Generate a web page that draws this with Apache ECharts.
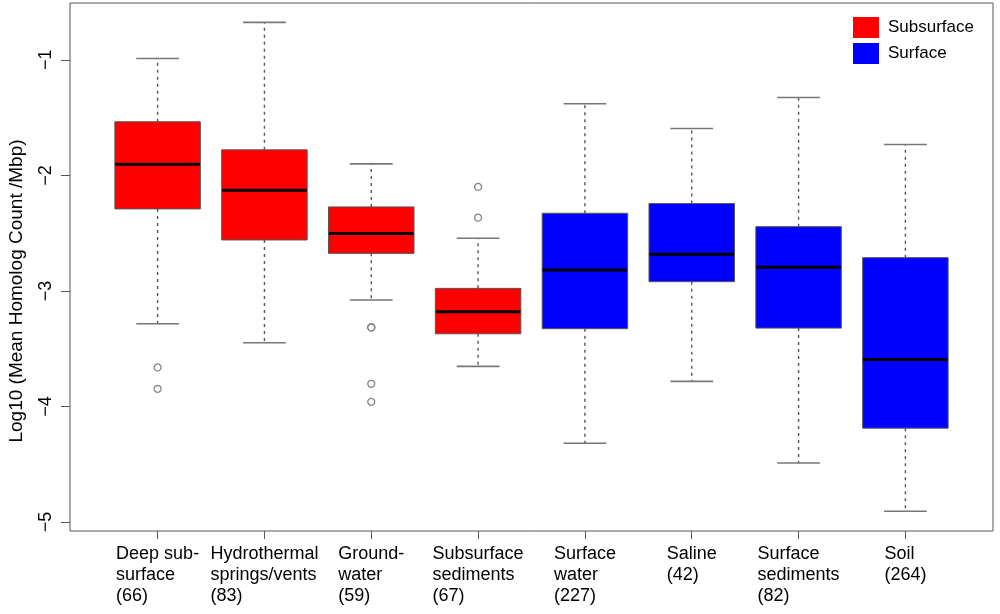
<!DOCTYPE html>
<html>
<head>
<meta charset="utf-8">
<script src="https://cdn.jsdelivr.net/npm/echarts@6/dist/echarts.min.js"></script>
<style>
  html, body { margin: 0; padding: 0; background: #fff; }
  #chart { width: 1000px; height: 614px; }
</style>
</head>
<body>
<div id="chart"></div>
<script>
// ---- data ----
const categoryLines = [
  ['Deep sub-', 'surface', '(66)'],
  ['Hydrothermal', 'springs/vents', '(83)'],
  ['Ground-', 'water', '(59)'],
  ['Subsurface', 'sediments', '(67)'],
  ['Surface', 'water', '(227)'],
  ['Saline', '(42)'],
  ['Surface', 'sediments', '(82)'],
  ['Soil', '(264)']
];
const groupType   = ['Subsurface', 'Subsurface', 'Subsurface', 'Subsurface', 'Surface', 'Surface', 'Surface', 'Surface'];
const whiskerLow  = [-3.284, -3.449, -3.079, -3.653, -4.318, -3.783, -4.489, -4.907];
const quart1      = [-2.290, -2.559, -2.675, -3.371, -3.327, -2.920, -3.322, -4.188];
const median      = [-1.903, -2.128, -2.504, -3.180, -2.819, -2.683, -2.796, -3.593];
const quart3      = [-1.536, -1.779, -2.273, -2.978, -2.328, -2.244, -2.444, -2.712];
const whiskerHigh = [-0.988, -0.676, -1.900, -2.544, -1.380, -1.594, -1.326, -1.733];
const outlierGroup = [0, 0, 2, 2, 2, 2, 3, 3];
const outlierValue = [-3.662, -3.847, -3.316, -3.316, -3.804, -3.960, -2.100, -2.366];
const yTicks = [-5, -4, -3, -2, -1];
const legendNames = ['Subsurface', 'Surface'];
const legendColors = ['#ff0000', '#0000ff'];
// ----------------------------------------------

const FONT = '"Liberation Sans", Arial, Helvetica, sans-serif';
const xPositions = categoryLines.map((_, i) => i + 1);

function boxData(type) {
  const out = [];
  for (let i = 0; i < categoryLines.length; i++) {
    if (groupType[i] === type) {
      out.push([xPositions[i], whiskerLow[i], quart1[i], median[i], quart3[i], whiskerHigh[i]]);
    }
  }
  return out;
}

function renderBox(params, api) {
  const x = api.value(0);
  const pLo = api.coord([x, api.value(1)]);
  const pQ1 = api.coord([x, api.value(2)]);
  const pMd = api.coord([x, api.value(3)]);
  const pQ3 = api.coord([x, api.value(4)]);
  const pHi = api.coord([x, api.value(5)]);
  const w = api.size([0.8, 0])[0];
  const cw = w / 2;
  const cx = pMd[0];
  const color = api.visual('color');
  const dash = { stroke: '#555', lineWidth: 1.4, lineDash: [3, 4] };
  const cap = { stroke: '#777', lineWidth: 1.6 };
  return {
    type: 'group',
    children: [
      { type: 'line', shape: { x1: cx, y1: pQ1[1], x2: cx, y2: pLo[1] }, style: dash },
      { type: 'line', shape: { x1: cx, y1: pQ3[1], x2: cx, y2: pHi[1] }, style: dash },
      { type: 'line', shape: { x1: cx - cw / 2, y1: pLo[1], x2: cx + cw / 2, y2: pLo[1] }, style: cap },
      { type: 'line', shape: { x1: cx - cw / 2, y1: pHi[1], x2: cx + cw / 2, y2: pHi[1] }, style: cap },
      { type: 'rect', shape: { x: cx - w / 2, y: pQ3[1], width: w, height: pQ1[1] - pQ3[1] },
        style: { fill: color, stroke: '#555', lineWidth: 1 } },
      { type: 'line', shape: { x1: cx - w / 2 + 0.5, y1: pMd[1], x2: cx + w / 2 - 0.5, y2: pMd[1] },
        style: { stroke: '#000', lineWidth: 3 } }
    ]
  };
}

const chart = echarts.init(document.getElementById('chart'), null, { renderer: 'canvas' });

const option = {
  animation: false,
  backgroundColor: '#fff',
  textStyle: { fontFamily: FONT },
  grid: {
    left: 70, right: 7, top: 3, bottom: 83,
    show: true, borderColor: '#555', borderWidth: 1, backgroundColor: 'transparent'
  },
  legend: {
    orient: 'vertical',
    left: 848, top: 12,
    icon: 'rect',
    itemWidth: 26, itemHeight: 21, itemGap: 5,
    data: legendNames,
    textStyle: { fontFamily: FONT, fontSize: 17, color: '#000', padding: [0, 0, 0, 4] }
  },
  xAxis: {
    type: 'value',
    min: 0.18, max: 8.82,
    axisLine: { show: false },
    splitLine: { show: false },
    axisTick: { show: true, customValues: xPositions, length: 8, lineStyle: { color: '#555', width: 1 } },
    axisLabel: {
      customValues: xPositions,
      margin: 13,
      color: '#000',
      fontFamily: FONT,
      fontSize: 18,
      lineHeight: 21,
      align: 'center',
      formatter: function (v) {
        const idx = Math.round(v) - 1;
        const lines = categoryLines[idx] || [];
        return lines.map(s => '{a|' + s + '}').join('\n');
      },
      rich: { a: { align: 'left', fontSize: 18, lineHeight: 21, fontFamily: FONT, color: '#000' } }
    }
  },
  yAxis: {
    type: 'value',
    min: -5.078, max: -0.508,
    axisLine: { show: false },
    splitLine: { show: false },
    axisTick: { show: true, customValues: yTicks, length: 9, lineStyle: { color: '#555', width: 1 } },
    axisLabel: {
      customValues: yTicks,
      rotate: 90,
      margin: 15,
      color: '#000',
      fontFamily: FONT,
      fontSize: 18,
      formatter: v => String(v).replace('-', '\u2212')
    }
  },
  graphic: [
    {
      type: 'text',
      x: 17, y: 291,
      rotation: Math.PI / 2,
      style: {
        text: 'Log10 (Mean Homolog Count /Mbp)',
        font: '19px ' + FONT,
        fill: '#000',
        align: 'center',
        verticalAlign: 'middle'
      }
    }
  ],
  series: [
    {
      name: legendNames[0],
      type: 'custom',
      renderItem: renderBox,
      itemStyle: { color: legendColors[0] },
      encode: { x: 0, y: [1, 2, 3, 4, 5] },
      data: boxData('Subsurface'),
      z: 3
    },
    {
      name: legendNames[1],
      type: 'custom',
      renderItem: renderBox,
      itemStyle: { color: legendColors[1] },
      encode: { x: 0, y: [1, 2, 3, 4, 5] },
      data: boxData('Surface'),
      z: 3
    },
    {
      name: 'Outliers',
      type: 'scatter',
      symbol: 'circle',
      symbolSize: 7,
      itemStyle: { color: '#fff', borderColor: '#666', borderWidth: 1.3 },
      data: outlierGroup.map((g, i) => [xPositions[g], outlierValue[i]]),
      z: 4
    }
  ]
};

chart.setOption(option);
</script>
</body>
</html>
